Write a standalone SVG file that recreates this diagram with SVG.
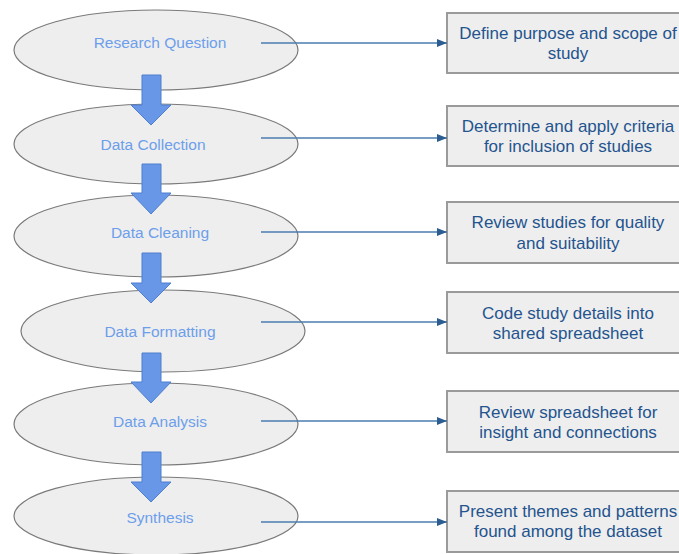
<svg xmlns="http://www.w3.org/2000/svg" width="679" height="554" viewBox="0 0 679 554">
  <style>
    .stage ellipse { fill: #eeeeee; stroke: #7a7a7a; stroke-width: 1.2; }
    .stage text { font-family: "Liberation Sans", Arial, sans-serif; font-size: 15.5px; fill: #6d9eeb; text-anchor: middle; dominant-baseline: central; }
    .task rect { fill: #eeeeee; stroke: #9a9a9a; stroke-width: 2; }
    .task text { font-family: "Liberation Sans", Arial, sans-serif; font-size: 17px; fill: #24548e; text-anchor: middle; dominant-baseline: central; }
    .flow { fill: #6797e6; stroke: #4f7fcf; stroke-width: 1; }
    .link { stroke: #4a7db2; stroke-width: 1.5; fill: none; marker-end: url(#tip); }
  </style>
  <defs>
    <marker id="tip" viewBox="0 0 10 8" refX="10" refY="4" markerWidth="10" markerHeight="8" markerUnits="userSpaceOnUse" orient="auto">
      <path d="M0,0 L10,4 L0,8 Z" fill="#2b5d92"/>
    </marker>
  </defs>

  <!-- process stages -->
  <g id="stage-research-question" class="stage">
    <ellipse cx="156" cy="50" rx="142" ry="40"/>
    <text x="160" y="42">Research Question</text>
  </g>
  <g id="stage-data-collection" class="stage">
    <ellipse cx="156" cy="144" rx="142" ry="40"/>
    <text x="153" y="144">Data Collection</text>
  </g>
  <g id="stage-data-cleaning" class="stage">
    <ellipse cx="156" cy="236" rx="142" ry="41"/>
    <text x="160" y="232">Data Cleaning</text>
  </g>
  <g id="stage-data-formatting" class="stage">
    <ellipse cx="163" cy="331" rx="142" ry="41"/>
    <text x="160" y="331">Data Formatting</text>
  </g>
  <g id="stage-data-analysis" class="stage">
    <ellipse cx="156" cy="424" rx="142" ry="41"/>
    <text x="160" y="421">Data Analysis</text>
  </g>
  <g id="stage-synthesis" class="stage">
    <ellipse cx="156" cy="516" rx="142" ry="39"/>
    <text x="160" y="517">Synthesis</text>
  </g>

  <!-- task descriptions -->
  <g id="task-define" class="task">
    <rect x="447" y="13" width="245" height="60"/>
    <text x="568" y="33">Define purpose and scope of</text>
    <text x="568" y="53">study</text>
  </g>
  <g id="task-criteria" class="task">
    <rect x="447" y="106" width="245" height="60"/>
    <text x="568" y="126">Determine and apply criteria</text>
    <text x="568" y="146">for inclusion of studies</text>
  </g>
  <g id="task-review" class="task">
    <rect x="447" y="202" width="245" height="61"/>
    <text x="568" y="222">Review studies for quality</text>
    <text x="568" y="243">and suitability</text>
  </g>
  <g id="task-code" class="task">
    <rect x="447" y="292" width="245" height="61"/>
    <text x="568" y="313">Code study details into</text>
    <text x="568" y="333">shared spreadsheet</text>
  </g>
  <g id="task-insight" class="task">
    <rect x="447" y="391" width="245" height="61"/>
    <text x="568" y="412">Review spreadsheet for</text>
    <text x="568" y="432">insight and connections</text>
  </g>
  <g id="task-present" class="task">
    <rect x="447" y="491" width="245" height="61"/>
    <text x="568" y="511">Present themes and patterns</text>
    <text x="568" y="531">found among the dataset</text>
  </g>

  <!-- connectors -->
  <g id="connectors">
    <!-- block arrows between stages -->
    <path class="flow" d="M142,75 H161 V105 H171 L151,125 L131,105 H142 Z"/>
    <path class="flow" d="M142,164 H161 V193 H171 L151,214 L131,193 H142 Z"/>
    <path class="flow" d="M142,253 H161 V283 H171 L151,303 L131,283 H142 Z"/>
    <path class="flow" d="M142,353 H161 V382 H171 L151,403 L131,382 H142 Z"/>
    <path class="flow" d="M142,452 H161 V482 H171 L151,502 L131,482 H142 Z"/>
    <!-- stage to task links -->
    <line class="link" x1="261" y1="43" x2="447" y2="43"/>
    <line class="link" x1="261" y1="138" x2="447" y2="138"/>
    <line class="link" x1="261" y1="232" x2="447" y2="232"/>
    <line class="link" x1="261" y1="322" x2="447" y2="322"/>
    <line class="link" x1="261" y1="421" x2="447" y2="421"/>
    <line class="link" x1="261" y1="522" x2="447" y2="522"/>
  </g>
</svg>
